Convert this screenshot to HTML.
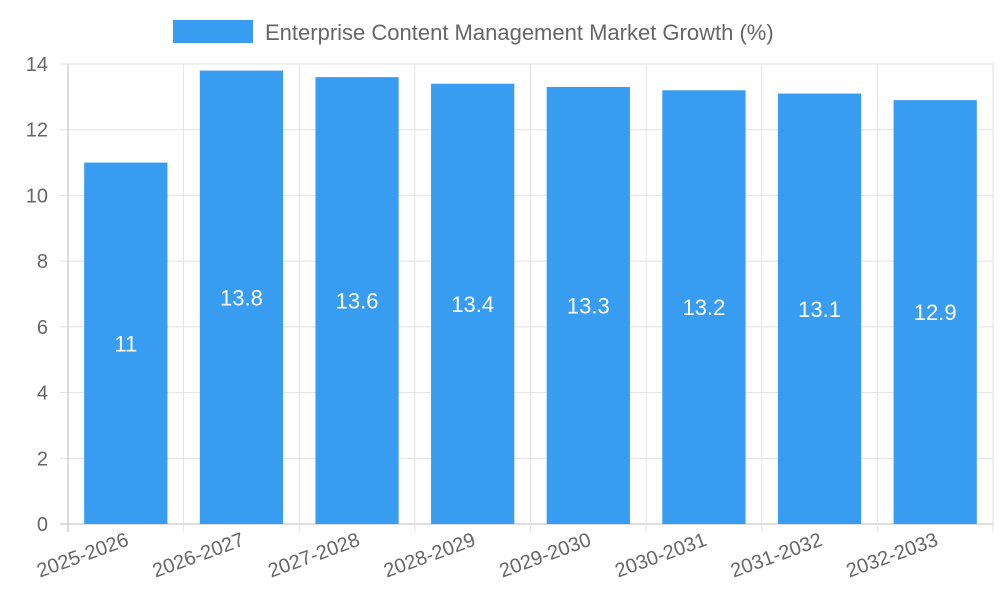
<!DOCTYPE html>
<html><head><meta charset="utf-8"><style>
body{margin:0;background:#fff;}
svg{display:block;font-family:"Liberation Sans",sans-serif;}
</style></head><body>
<svg id="chart" width="1000" height="600">
<g id="legend">
<rect x="173" y="20" width="80" height="23" fill="#389cf0"/>
<text x="265" y="40" font-size="22" fill="#666">Enterprise Content Management Market Growth (%)</text>
</g>
<g id="grid"></g><g id="bars"></g><g id="axes"></g>
</svg>
<script>
const categories=["2025-2026","2026-2027","2027-2028","2028-2029","2029-2030","2030-2031","2031-2032","2032-2033"];
const values=[11,13.8,13.6,13.4,13.3,13.2,13.1,12.9];
const yTicks=[0,2,4,6,8,10,12,14];
const NS="http://www.w3.org/2000/svg";
const L=68,R=993,T=64,B=524,yMax=14;
const y=v=>B-(v/yMax)*(B-T);
const bw=(R-L)/categories.length;
const x=i=>L+bw*i;
function mk(tag,attrs,parent,text){const e=document.createElementNS(NS,tag);for(const k in attrs)e.setAttribute(k,attrs[k]);if(text!==undefined)e.textContent=text;parent.appendChild(e);return e;}
const grid=document.getElementById('grid'),bars=document.getElementById('bars'),axes=document.getElementById('axes');
yTicks.forEach(t=>{
 const g=mk('line',{x1:L-8,x2:R,y1:y(t),y2:y(t),stroke:t===0?'#bbb':'#e2e2e2','stroke-width':1},grid);
 
 
 const lb=mk('text',{x:L-20,y:y(t)+7,'font-size':20,fill:'#666','text-anchor':'end'},axes,String(t));
 
 
});
for(let i=0;i<=categories.length;i++){
 const g=mk('line',{x1:x(i),x2:x(i),y1:T,y2:B+8,stroke:i===0?'#bbb':'#e2e2e2','stroke-width':1},grid);
 
 
}
categories.forEach((c,i)=>{
 const cx=x(i)+bw/2,w=bw*0.72;
 const r=mk('rect',{x:cx-w/2,y:y(values[i]),width:w,height:B-y(values[i]),fill:'#389cf0'},bars);
 
 
 const v=mk('text',{x:cx,y:(y(values[i])+B)/2+8,'font-size':22,fill:'#fff','text-anchor':'middle'},bars,String(values[i]));
 
 
 const xl=mk('text',{x:cx+4,y:545,'font-size':20,fill:'#666','text-anchor':'end',transform:`rotate(-20 ${cx+4} 545)`},axes,c);
 
 
});
</script>
</body></html>
